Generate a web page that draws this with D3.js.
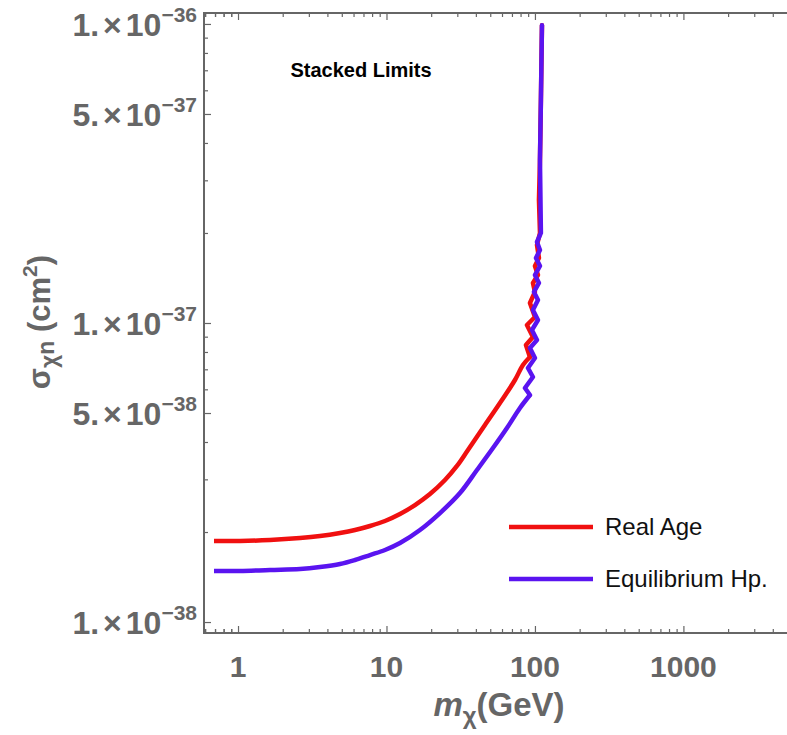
<!DOCTYPE html>
<html><head><meta charset="utf-8">
<script src="https://cdn.jsdelivr.net/npm/d3@7/dist/d3.min.js"></script>
<style>body{margin:0;background:#fff} svg{display:block}</style>
</head><body><svg id="c" width="787" height="735"></svg>
<script>
// ---- data ----
const realAgeMass = [0.689,1.031,1.642,2.615,3.566,4.863,6.135,7.743,9.770,12.33,15.56,19.63,24.77,29.84,35.39,46.06,59.96,73.34,83.04,92.54,86.98,96.94,88.33,100.0,92.54,100.0,96.94,104.8,100.0,106.4,103.2,108.1,106.4,108.1,109.7,111.5];
const realAgeSigma = [1.866e-38,1.866e-38,1.880e-38,1.909e-38,1.939e-38,1.985e-38,2.031e-38,2.095e-38,2.177e-38,2.297e-38,2.462e-38,2.680e-38,2.985e-38,3.325e-38,3.760e-38,4.559e-38,5.527e-38,6.447e-38,7.236e-38,7.695e-38,8.441e-38,8.979e-38,9.847e-38,1.047e-37,1.166e-37,1.270e-37,1.361e-37,1.447e-37,1.551e-37,1.650e-37,1.824e-37,2.000e-37,2.578e-37,3.509e-37,5.569e-37,0.99e-36];
const equilMass = [0.689,1.031,1.642,2.615,3.566,4.863,6.135,7.743,9.770,12.33,16.81,22.93,31.26,40.69,52.14,64.78,79.25,92.54,85.63,96.94,89.70,100.0,92.54,103.2,95.45,104.8,96.94,104.8,98.47,106.4,100.0,108.1,101.6,108.1,103.2,109.7,108.1,109.7,111.5];
const equilSigma = [1.481e-38,1.481e-38,1.493e-38,1.504e-38,1.527e-38,1.563e-38,1.612e-38,1.675e-38,1.741e-38,1.837e-38,2.031e-38,2.314e-38,2.700e-38,3.224e-38,3.818e-38,4.454e-38,5.197e-38,5.743e-38,6.061e-38,6.597e-38,7.071e-38,7.636e-38,8.249e-38,8.772e-38,9.476e-38,1.023e-37,1.105e-37,1.194e-37,1.270e-37,1.361e-37,1.447e-37,1.551e-37,1.650e-37,1.754e-37,1.866e-37,2.000e-37,3.509e-37,5.569e-37,0.99e-36];
const seriesNames = ["Real Age","Equilibrium Hp."];
const seriesColors = ["#f01010","#5a14f0"];
const xMajor = [1,10,100,1000];
const xMajorLabels = ["1","10","100","1000"];
const yMajor = [1e-38,5e-38,1e-37,5e-37,1e-36];
const yMantissa = ["1.","5.","1.","5.","1."];
const yExponent = ["\u221238","\u221238","\u221237","\u221237","\u221236"];
const titleText = "Stacked Limits";

// ---- layout ----
const L = 204, T = 13, B = 633, R = 800;
const gray = "#666";
const font = "Liberation Sans, Arial, sans-serif";
const svg = d3.select("#c");
const x = d3.scaleLog().domain([0.59, 6100]).range([L, R]);
const y = d3.scaleLog().domain([0.919e-38, 1.088e-36]).range([B, T]);

const xMinor = [];
for (let d = -1; d <= 3; d++) for (let k = 2; k <= 9; k++) { const v = k * Math.pow(10, d); if (v >= 0.59 && v <= 6100) xMinor.push(v); }
xMinor.push(0.6,0.7,0.8,0.9);
const yMinor = [];
for (const d of [-38,-37]) for (let k = 2; k <= 9; k++) { if (k === 5) continue; yMinor.push(k * Math.pow(10, d)); }

function styleAxis(g){ g.select(".domain").remove(); g.selectAll(".tick line").attr("stroke", gray).attr("stroke-width", 1.2); }
svg.append("g").attr("transform",`translate(0,${B})`).call(d3.axisBottom(x).tickValues(xMajor).tickSize(-7).tickFormat("")).call(styleAxis);
svg.append("g").attr("transform",`translate(0,${B})`).call(d3.axisBottom(x).tickValues(xMinor).tickSize(-4).tickFormat("")).call(styleAxis);
svg.append("g").attr("transform",`translate(0,${T})`).call(d3.axisTop(x).tickValues(xMajor).tickSize(-7).tickFormat("")).call(styleAxis);
svg.append("g").attr("transform",`translate(0,${T})`).call(d3.axisTop(x).tickValues(xMinor).tickSize(-4).tickFormat("")).call(styleAxis);
svg.append("g").attr("transform",`translate(${L},0)`).call(d3.axisLeft(y).tickValues(yMajor).tickSize(-7).tickFormat("")).call(styleAxis);
svg.append("g").attr("transform",`translate(${L},0)`).call(d3.axisLeft(y).tickValues(yMinor).tickSize(-4).tickFormat("")).call(styleAxis);

// frame
svg.append("path").attr("d",`M${R},${T}H${L}V${B}H${R}`).attr("fill","none").attr("stroke",gray).attr("stroke-width",2);

// x tick labels
svg.append("g").selectAll("text").data(xMajor).join("text")
  .attr("x", d => x(d)).attr("y", 677).attr("text-anchor","middle")
  .attr("font-family",font).attr("font-weight","bold").attr("font-size",30).attr("fill",gray)
  .text((d,i) => xMajorLabels[i]);

// y tick labels
const yl = svg.append("g").selectAll("text").data(yMajor).join("text")
  .attr("x", 197).attr("y", d => y(d) + 12).attr("text-anchor","end")
  .attr("font-family",font).attr("font-weight","bold").attr("font-size",32).attr("fill",gray);
yl.append("tspan").text((d,i) => yMantissa[i]);
yl.append("tspan").attr("dx",4).text("\u00d7");
yl.append("tspan").attr("dx",4).text("10");
yl.append("tspan").attr("dy",-14).attr("font-size",21).text((d,i) => yExponent[i]);

// curves: smooth rising part + linear zig-zag part
const smoothLine = d3.line().x(d => x(d[0])).y(d => y(d[1])).curve(d3.curveCatmullRom.alpha(0.5));
const linLine = d3.line().x(d => x(d[0])).y(d => y(d[1]));
const seriesData = [[realAgeMass, realAgeSigma],[equilMass, equilSigma]];
seriesData.forEach(([ms, ss], si) => {
  const pts = ms.map((m,i) => [m, ss[i]]);
  let k = 1; while (k < pts.length && pts[k][0] > pts[k-1][0]) k++;
  const smooth = pts.slice(0, k), rest = pts.slice(k-1);
  svg.append("path").attr("d", smoothLine(smooth)).attr("fill","none").attr("stroke",seriesColors[si])
    .attr("stroke-width",4.5).attr("stroke-linecap","butt");
  svg.append("path").attr("d", linLine(rest)).attr("fill","none").attr("stroke",seriesColors[si])
    .attr("stroke-width",4.5).attr("stroke-linejoin","round").attr("stroke-linecap","round");
});

// title
svg.append("text").attr("x",361).attr("y",77).attr("text-anchor","middle")
  .attr("font-family",font).attr("font-weight","bold").attr("font-size",20).attr("fill","#000").text(titleText);

// legend
const lg = svg.append("g").selectAll("g").data(seriesNames).join("g")
  .attr("transform",(d,i) => `translate(509,${527 + i*52})`);
lg.append("line").attr("x1",0).attr("x2",84).attr("stroke",(d,i) => seriesColors[i]).attr("stroke-width",4.5);
lg.append("text").attr("x",96).attr("y",8).attr("font-family",font).attr("font-size",24).attr("fill","#111").text(d => d);

// x axis title
const xt = svg.append("text").attr("x",499).attr("y",716).attr("text-anchor","middle")
  .attr("font-family",font).attr("font-weight","bold").attr("font-size",33).attr("fill",gray);
xt.append("tspan").attr("font-style","italic").text("m");
xt.append("tspan").attr("dy",8).attr("font-size",24).text("\u03c7");
xt.append("tspan").attr("dy",-8).text("(GeV)");

// y axis title
const yt = svg.append("text").attr("transform","translate(50,322) rotate(-90)").attr("text-anchor","middle")
  .attr("font-family",font).attr("font-weight","bold").attr("font-size",31).attr("fill",gray);
yt.append("tspan").text("\u03c3");
yt.append("tspan").attr("dy",7).attr("font-size",23).text("\u03c7");
yt.append("tspan").attr("dy",-3).attr("font-size",23).text("n");
yt.append("tspan").attr("dy",-4).text(" (cm");
yt.append("tspan").attr("dy",-13).attr("font-size",21).text("2");
yt.append("tspan").attr("dy",13).text(")");
</script></body></html>
